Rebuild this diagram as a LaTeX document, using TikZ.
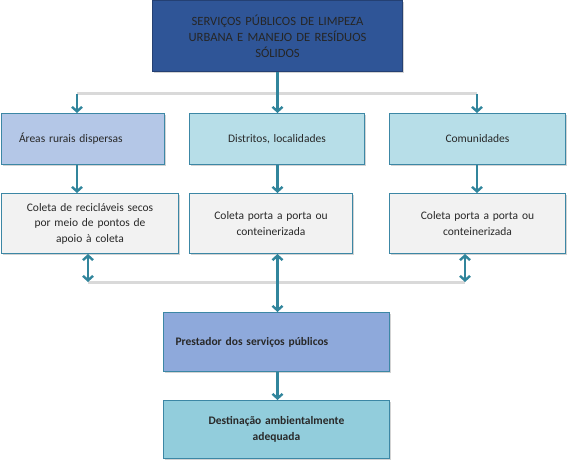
\documentclass[tikz,border=0pt]{standalone}
\usepackage{fontspec}
\setmainfont{Carlito}
\usetikzlibrary{arrows.meta,shadows}
\definecolor{topfill}{RGB}{47,85,151}
\definecolor{topdraw}{RGB}{36,64,115}
\definecolor{lavfill}{RGB}{180,199,231}
\definecolor{tealfill}{RGB}{183,222,232}
\definecolor{greyfill}{RGB}{242,242,242}
\definecolor{presfill}{RGB}{142,169,219}
\definecolor{destfill}{RGB}{146,205,220}
\definecolor{bordc}{RGB}{60,135,165}
\definecolor{arrc}{RGB}{49,133,156}
\definecolor{linec}{RGB}{217,217,217}
\definecolor{txtc}{RGB}{40,40,40}
\tikzset{
  box/.style={draw=bordc, line width=1pt, anchor=north west, inner sep=0pt, text=txtc,
    font=\fontsize{11.5}{15.5}\selectfont, align=center,
    drop shadow={shadow xshift=1.5pt, shadow yshift=-1.5pt, opacity=0.35, fill=gray}},
  arr/.style={draw=arrc, line width=2.4pt, -{Straight Barb[length=4.5pt,width=10pt,line width=2.4pt]}},
  darr/.style={draw=arrc, line width=2.4pt, {Straight Barb[length=4.5pt,width=10pt,line width=2.4pt]}-{Straight Barb[length=4.5pt,width=10pt,line width=2.4pt]}},
  gline/.style={draw=linec, line width=3pt}
}
\begin{document}
\begin{tikzpicture}[x=1pt,y=-1pt]
\useasboundingbox (0,0) rectangle (570,465);
% top box
\node[box, fill=topfill, draw=topdraw, text=black!85, minimum width=250pt, minimum height=71pt, text width=240pt,
  font=\fontsize{12.6}{16}\selectfont] (top) at (152,0)
  {SERVIÇOS PÚBLICOS DE LIMPEZA\\URBANA E MANEJO DE RESÍDUOS\\SÓLIDOS};
% row 1
\node[box, fill=lavfill, minimum width=163pt, minimum height=51pt, text width=160pt, align=left] (a1) at (1,113)
  {\hspace*{16pt}Áreas rurais dispersas};
\node[box, fill=tealfill, minimum width=175pt, minimum height=51pt, text width=170pt] (b1) at (189,113)
  {Distritos, localidades};
\node[box, fill=tealfill, minimum width=176pt, minimum height=51pt, text width=170pt] (c1) at (389,113)
  {Comunidades};
% row 2
\node[box, fill=greyfill, minimum width=177pt, minimum height=60pt, text width=174pt] (a2) at (1,193)
  {Coleta de recicláveis secos\\por meio de pontos de\\apoio à coleta};
\node[box, fill=greyfill, minimum width=163pt, minimum height=60pt, text width=160pt] (b2) at (189,193)
  {Coleta porta a porta ou\\conteinerizada};
\node[box, fill=greyfill, minimum width=176pt, minimum height=60pt, text width=170pt] (c2) at (389,193)
  {Coleta porta a porta ou\\conteinerizada};
% bottom
\node[box, fill=presfill, minimum width=226pt, minimum height=59pt, text width=226pt, align=left,
  font=\fontsize{11.5}{15.5}\selectfont\bfseries] (p) at (163,312)
  {\hspace*{12pt}Prestador dos serviços públicos};
\node[box, fill=destfill, minimum width=226pt, minimum height=58pt, text width=210pt,
  font=\fontsize{11.5}{15.5}\selectfont\bfseries] (d) at (163,400)
  {Destinação ambientalmente\\adequada};
% coordinates
\coordinate (l1) at (77,94);
\coordinate (r1) at (477,94);
\coordinate (l2) at (88,282);
\coordinate (r2) at (465,282);
% grey lines
\draw[gline] (l1) -- (r1);
\draw[gline] (l2) -- (r2);
% arrows
\draw[arr] (top.south) -- (b1.north -| top.south);
\draw[arr] (l1) -- (a1.north -| l1);
\draw[arr] (r1) -- (c1.north -| r1);
\draw[arr] (a1.south -| l1) -- (a2.north -| l1);
\draw[arr] (b1.south -| top.south) -- (b2.north -| top.south);
\draw[arr] (c1.south -| r1) -- (c2.north -| r1);
\draw[darr] (a2.south -| l2) -- (l2);
\draw[darr] (c2.south -| r2) -- (r2);
\draw[darr] (b2.south -| top.south) -- (p.north -| top.south);
\draw[arr] (p.south -| top.south) -- (d.north -| top.south);
\end{tikzpicture}
\end{document}
